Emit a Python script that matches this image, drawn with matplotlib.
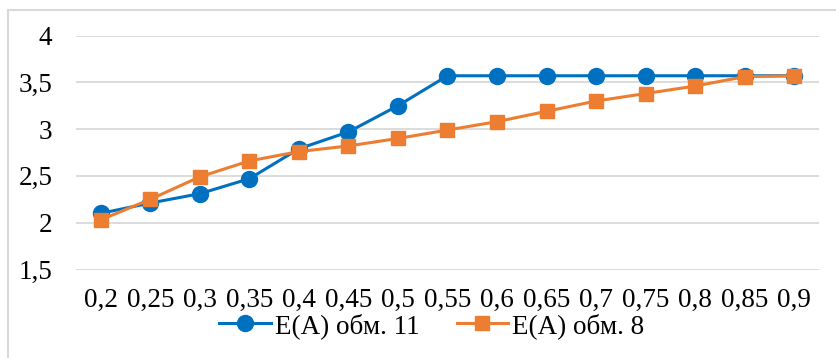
import matplotlib.pyplot as plt
from matplotlib.patches import Rectangle

categories = ['0,2', '0,25', '0,3', '0,35', '0,4', '0,45', '0,5', '0,55',
              '0,6', '0,65', '0,7', '0,75', '0,8', '0,85', '0,9']
obm_11 = [2.10, 2.21, 2.31, 2.47, 2.79, 2.97, 3.25, 3.57,
          3.57, 3.57, 3.57, 3.57, 3.57, 3.57, 3.57]
obm_8 = [2.03, 2.25, 2.49, 2.66, 2.76, 2.82, 2.90, 2.99,
         3.08, 3.19, 3.30, 3.38, 3.46, 3.56, 3.57]
y_ticks = [1.5, 2, 2.5, 3, 3.5, 4]
y_labels = ['1,5', '2', '2,5', '3', '3,5', '4']

plt.rcParams['font.family'] = ['Liberation Serif', 'DejaVu Serif']

W, H = 837, 358
fig = plt.figure(figsize=(W / 100, H / 100), dpi=100)
fig.patches.append(Rectangle((8 / W, -0.1), 1.2, 1 - 10 / H + 0.1,
                             transform=fig.transFigure, fill=False,
                             edgecolor='#D9D9D9', linewidth=1.5))

ax = fig.add_axes([76 / W, 1 - 269.5 / H, (819 - 76) / W, (269.5 - 35.5) / H])
x = range(len(categories))
ax.plot(x, obm_11, color='#0070C0', lw=2.2, marker='o', ms=11.5,
        label='E(A) обм. 11', zorder=3)
ax.plot(x, obm_8, color='#ED7D31', lw=2.2, marker='s', ms=10,
        label='E(A) обм. 8', zorder=4)

ax.set_xlim(-0.5, len(categories) - 0.5)
ax.set_ylim(1.5, 4)
ax.set_yticks(y_ticks)
ax.set_yticklabels(y_labels)
ax.set_xticks(list(x))
ax.set_xticklabels(categories)
ax.grid(axis='y', color='#D9D9D9', lw=1.3)
ax.set_axisbelow(True)
for s in ax.spines.values():
    s.set_visible(False)
ax.tick_params(length=0, labelsize=19.5, colors='black')
ax.tick_params(axis='y', pad=17)
ax.tick_params(axis='x', pad=13)

fig.legend(loc='center', bbox_to_anchor=(0.516, 1 - 326 / H), ncol=2,
           frameon=False, fontsize=19.5, handlelength=1.9,
           handletextpad=0.15, columnspacing=1.37, borderpad=0)

fig.savefig('out.png', dpi=100)
plt.close(fig)
